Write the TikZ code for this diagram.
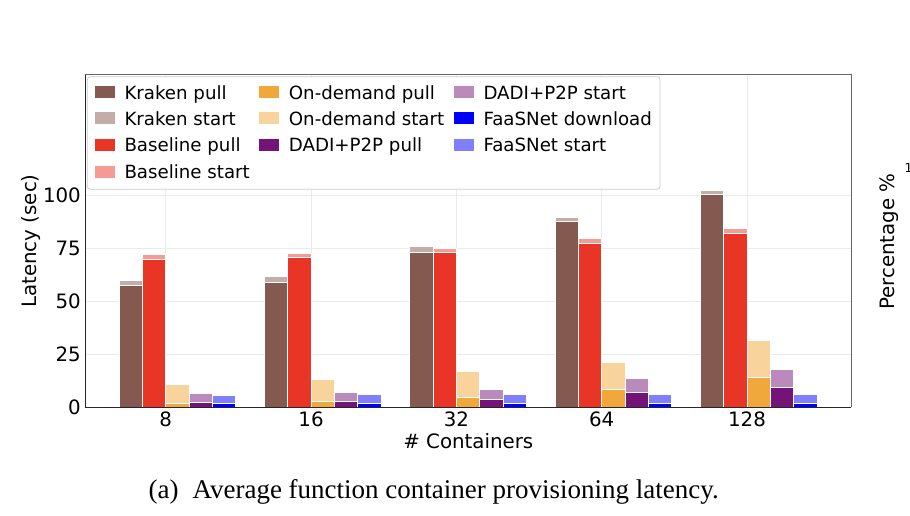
\documentclass[tikz,border=0pt]{standalone}
\usepackage{fontspec}
\setmainfont{DejaVu Sans}
\newfontfamily\capfont{Liberation Serif}
\definecolor{krakP}{HTML}{845A50}
\definecolor{krakS}{HTML}{C4ADA6}
\definecolor{baseP}{HTML}{E83526}
\definecolor{baseS}{HTML}{F59A94}
\definecolor{ondP}{HTML}{F0A83C}
\definecolor{ondS}{HTML}{F8D49C}
\definecolor{dadiP}{HTML}{751478}
\definecolor{dadiS}{HTML}{B98ABB}
\definecolor{faasP}{HTML}{0000FF}
\definecolor{faasS}{HTML}{8080FF}
\definecolor{gridc}{HTML}{EBEBEB}
\definecolor{legc}{HTML}{CCCCCC}
\newcommand\drawbar[5]{%
  \path[fill=#5, draw=white, line width=0.8pt] (#1,#3) rectangle ({#1+23.3},#2);
  \path[fill=#4, draw=white, line width=0.8pt] (#1,#2) rectangle ({#1+23.3},407);
}
\tikzset{
  gridline/.style={draw=gridc, line width=0.9pt},
  ticklab/.style={inner sep=0pt, font=\fontsize{19.8}{24}\selectfont},
  leglab/.style={inner sep=0pt, anchor=base west, font=\fontsize{18.2}{22}\selectfont},
  legpatch/.style={draw=none},
}
\begin{document}
\begin{tikzpicture}[x=1pt,y=-1pt]
\useasboundingbox (0,0) rectangle (910,516);
\clip (0,0) rectangle (910,516);
\fill[white] (0,0) rectangle (910,516);
% grid
\foreach \v in {25,50,75,100} {
  \draw[gridline] (85,{407-2.12*\v}) -- (851,{407-2.12*\v});
}
\foreach \k in {0,...,4} {
  \draw[gridline] ({165.7+145.33*\k},74.7) -- ({165.7+145.33*\k},407);
}
% bars
\foreach \xg/\ka/\kb/\ba/\bb/\oa/\ob/\da/\db/\fa/\fb in {
  165.7/285.7/280/259/254/403/384/402.3/393.3/403.7/395,
  311.03/282.7/276/257.7/253.3/401.7/379/401.7/392.3/403.7/394.3,
  456.36/252.7/246.7/252.7/248/397.7/371.7/399.7/389/403.7/394.7,
  601.69/221.7/217/243.3/238/389/362/392/378.3/403.7/394.3,
  747.02/194.3/190/233.7/228.3/377/340.7/387.7/369.7/403.7/394} {
  \pgfmathsetmacro\xa{\xg-46.6}
  \pgfmathsetmacro\xb{\xg-23.3}
  \pgfmathsetmacro\xc{\xg}
  \pgfmathsetmacro\xd{\xg+23.3}
  \pgfmathsetmacro\xe{\xg+46.6}
  \drawbar{\xa}{\ka}{\kb}{krakP}{krakS}
  \drawbar{\xb}{\ba}{\bb}{baseP}{baseS}
  \drawbar{\xc}{\oa}{\ob}{ondP}{ondS}
  \drawbar{\xd}{\da}{\db}{dadiP}{dadiS}
  \drawbar{\xe}{\fa}{\fb}{faasP}{faasS}
}
% axes frame
\draw[draw=black!60, line width=1pt] (85,74.7) -- (851,74.7) -- (851,407);
\draw[draw=black!85, line width=1pt] (85,74.7) -- (85,407) -- (851,407);
% legend
\draw[draw=legc, fill=white, rounded corners=3pt, line width=0.8pt] (87.3,76.7) rectangle (660,189.3);
\foreach \px/\tx/\py/\cc/\lab/\nm in {
  95/124.3/92.3/krakP/Kraken pull/l1,
  95/124.3/118.5/krakS/Kraken start/l2,
  95/124.3/145/baseP/Baseline pull/l3,
  95/124.3/171.7/baseS/Baseline start/l4,
  259.3/288.7/92.3/ondP/On-demand pull/l5,
  259.3/288.7/118.5/ondS/On-demand start/l6,
  259.3/288.7/145/dadiP/DADI+P2P pull/l7,
  454/483.3/92.3/dadiS/DADI+P2P start/l8,
  454/483.3/118.5/faasP/FaaSNet download/l9,
  454/483.3/145/faasS/FaaSNet start/l10} {
  \fill[\cc] (\px,{\py-6}) rectangle ({\px+20},{\py+6});
  \node[leglab] (\nm) at (\tx,{\py+6.8}) {\lab};
}
% y tick labels
\foreach \v in {0,25,50,75,100} {
  \node[ticklab, anchor=base east] (y\v) at (81,{407-2.12*\v+7.2}) {\v};
}
% x tick labels
\foreach \k/\lab in {0/8,1/16,2/32,3/64,4/128} {
  \node[ticklab, anchor=base] (x\k) at ({165.7+145.33*\k},426.7) {\lab};
}
% axis labels
\node[ticklab, anchor=base] (xlab) at (468.3,448.3) {\# Containers};
\node[ticklab, rotate=90, anchor=center] (ylab) at (31,241) {Latency (sec)};
\node[ticklab, rotate=90, anchor=center] (ylab2) at (889.2,241.7) {Percentage \%};
\node[inner sep=0pt, anchor=base west, font=\fontsize{12.5}{15}\selectfont] (cut) at (904.5,172.3) {1};
% caption
\node[inner sep=0pt, anchor=base, font=\capfont\fontsize{27}{32}\selectfont] (cap) at (433.7,498.3) {(a)\hspace{14pt}Average function container provisioning latency.};
\end{tikzpicture}
\end{document}
